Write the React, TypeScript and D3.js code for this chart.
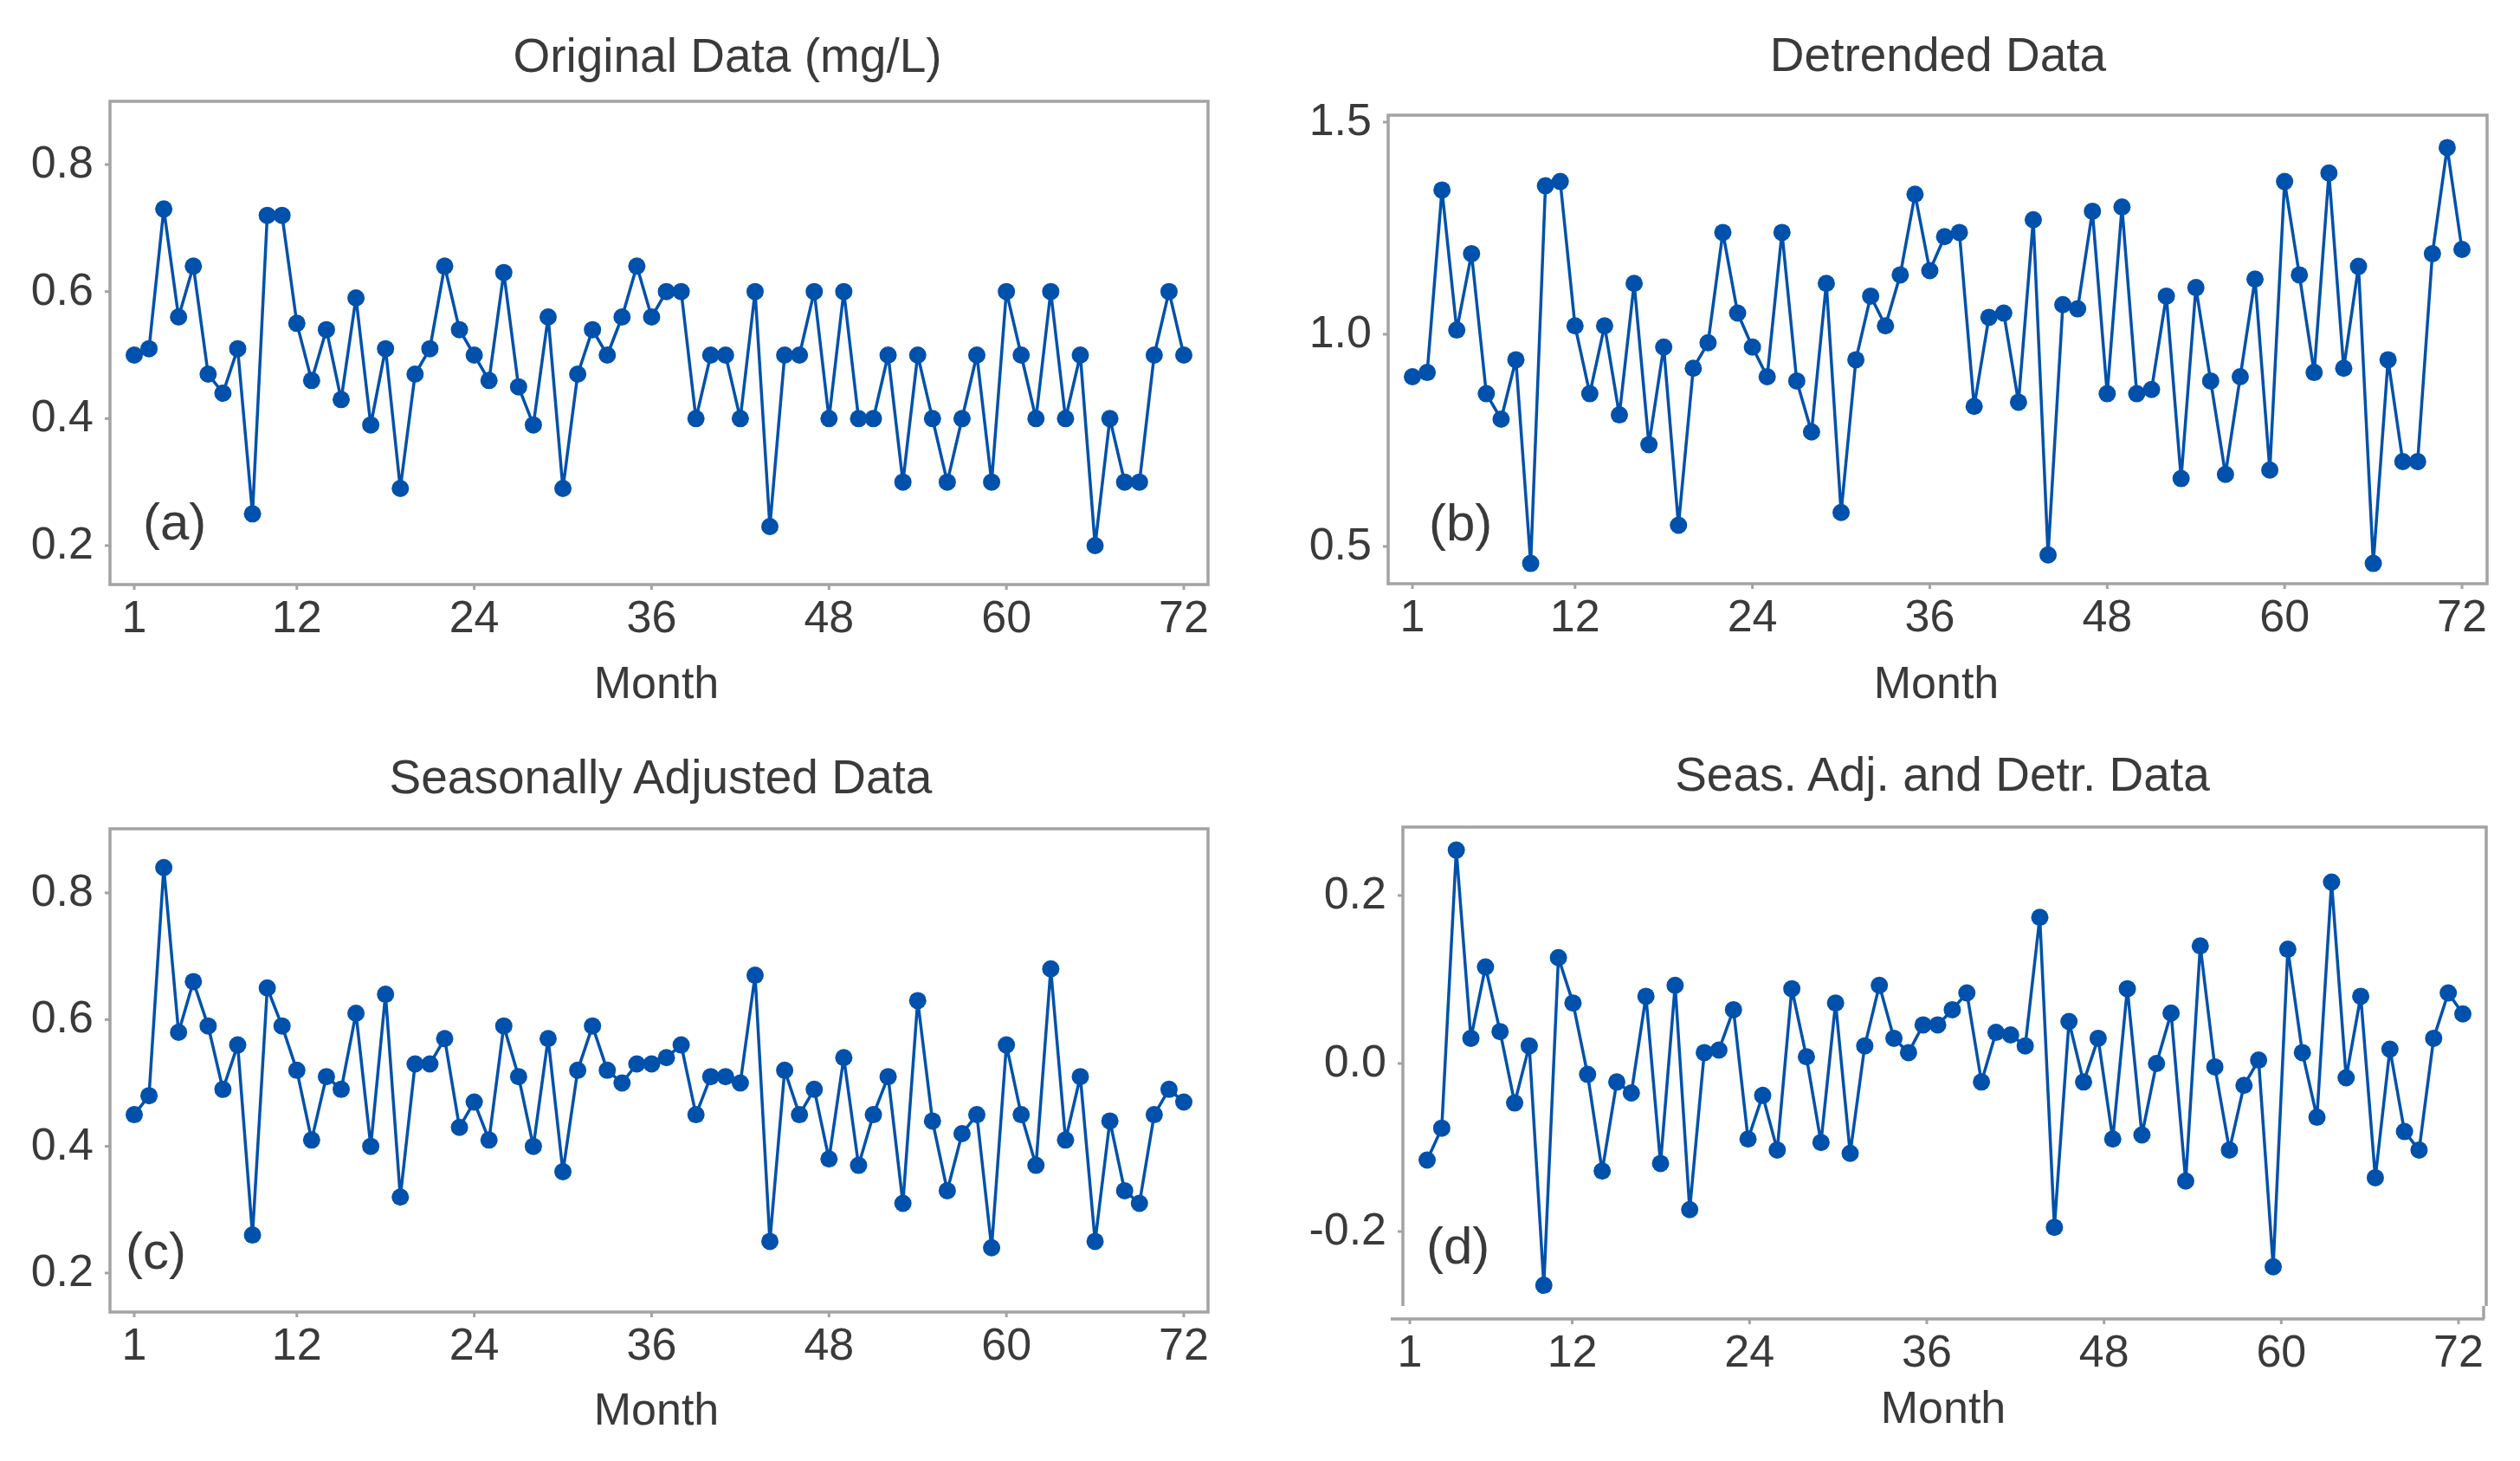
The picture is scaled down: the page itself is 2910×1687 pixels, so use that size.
import React from "react";
import * as d3 from "d3";

// ---------- data ----------
const months: number[] = d3.range(1, 73);
const xTicks = [1, 12, 24, 36, 48, 60, 72];

const originalData = [
  0.50, 0.51, 0.73, 0.56, 0.64, 0.47, 0.44, 0.51, 0.25, 0.72, 0.72, 0.55,
  0.46, 0.54, 0.43, 0.59, 0.39, 0.51, 0.29, 0.47, 0.51, 0.64, 0.54, 0.50,
  0.46, 0.63, 0.45, 0.39, 0.56, 0.29, 0.47, 0.54, 0.50, 0.56, 0.64, 0.56,
  0.60, 0.60, 0.40, 0.50, 0.50, 0.40, 0.60, 0.23, 0.50, 0.50, 0.60, 0.40,
  0.60, 0.40, 0.40, 0.50, 0.30, 0.50, 0.40, 0.30, 0.40, 0.50, 0.30, 0.60,
  0.50, 0.40, 0.60, 0.40, 0.50, 0.20, 0.40, 0.30, 0.30, 0.50, 0.60, 0.50,
];

const detrendedData = [
  0.90, 0.91, 1.34, 1.01, 1.19, 0.86, 0.80, 0.94, 0.46, 1.35, 1.36, 1.02,
  0.86, 1.02, 0.81, 1.12, 0.74, 0.97, 0.55, 0.92, 0.98, 1.24, 1.05, 0.97,
  0.90, 1.24, 0.89, 0.77, 1.12, 0.58, 0.94, 1.09, 1.02, 1.14, 1.33, 1.15,
  1.23, 1.24, 0.83, 1.04, 1.05, 0.84, 1.27, 0.48, 1.07, 1.06, 1.29, 0.86,
  1.30, 0.86, 0.87, 1.09, 0.66, 1.11, 0.89, 0.67, 0.90, 1.13, 0.68, 1.36,
  1.14, 0.91, 1.38, 0.92, 1.16, 0.46, 0.94, 0.70, 0.70, 1.19, 1.44, 1.20,
];

const seasAdjData = [
  0.45, 0.48, 0.84, 0.58, 0.66, 0.59, 0.49, 0.56, 0.26, 0.65, 0.59, 0.52,
  0.41, 0.51, 0.49, 0.61, 0.40, 0.64, 0.32, 0.53, 0.53, 0.57, 0.43, 0.47,
  0.41, 0.59, 0.51, 0.40, 0.57, 0.36, 0.52, 0.59, 0.52, 0.50, 0.53, 0.53,
  0.54, 0.56, 0.45, 0.51, 0.51, 0.50, 0.67, 0.25, 0.52, 0.45, 0.49, 0.38,
  0.54, 0.37, 0.45, 0.51, 0.31, 0.63, 0.44, 0.33, 0.42, 0.45, 0.24, 0.56,
  0.45, 0.37, 0.68, 0.41, 0.51, 0.25, 0.44, 0.33, 0.31, 0.45, 0.49, 0.47,
];

const seasAdjDetrData = [
  -0.115, -0.077, 0.254, 0.030, 0.115, 0.038, -0.047, 0.021, -0.264, 0.126, 0.072, -0.013,
  -0.128, -0.022, -0.035, 0.080, -0.119, 0.093, -0.174, 0.013, 0.016, 0.064, -0.090, -0.038,
  -0.103, 0.089, 0.008, -0.094, 0.072, -0.107, 0.021, 0.093, 0.030, 0.013, 0.046, 0.046,
  0.064, 0.084, -0.022, 0.037, 0.034, 0.021, 0.174, -0.195, 0.050, -0.022, 0.030, -0.090,
  0.089, -0.085, 0.000, 0.060, -0.140, 0.140, -0.004, -0.103, -0.026, 0.004, -0.242, 0.136,
  0.013, -0.064, 0.216, -0.017, 0.080, -0.136, 0.017, -0.081, -0.103, 0.030, 0.084, 0.059,
];

const yTicksAC = [0.2, 0.4, 0.6, 0.8];
const yLabelsAC = ["0.2", "0.4", "0.6", "0.8"];
const yTicksB = [0.5, 1.0, 1.5];
const yLabelsB = ["0.5", "1.0", "1.5"];
const yTicksD = [-0.2, 0.0, 0.2];
const yLabelsD = ["-0.2", "0.0", "0.2"];

const titles = [
  "Original Data (mg/L)",
  "Detrended Data",
  "Seasonally Adjusted Data",
  "Seas. Adj. and Detr. Data",
];
const panelTags = ["(a)", "(b)", "(c)", "(d)"];
const xAxisTitle = "Month";

// ---------- styles ----------
const FONT = "'Liberation Sans', Arial, sans-serif";
const TEXT = "#3a3a3a";
const FRAME = "#a3a3a3";
const BLUE = "#0051ab";

type Panel = {
  values: number[];
  yTicks: number[];
  yLabels: string[];
  title: string;
  tag: string;
  box: { x0: number; x1: number; y0: number; y1: number };
  xRange: [number, number];
  ptRange: [number, number];
  yDomain: [number, number];
  yRange: [number, number];
  titleX: number;
  titleY: number;
  monthX: number;
  monthY: number;
  tagX: number;
  tagY: number;
  detached?: { leftBottom: number; axisY: number; axisX0: number; axisX1: number };
};

const panels: Panel[] = [
  {
    values: originalData, yTicks: yTicksAC, yLabels: yLabelsAC, title: titles[0], tag: panelTags[0],
    box: { x0: 127, x1: 1395, y0: 117, y1: 675 },
    xRange: [155, 1367], ptRange: [155, 1367],
    yDomain: [0.2, 0.8], yRange: [630, 190],
    titleX: 840, titleY: 83, monthX: 758, monthY: 806, tagX: 165, tagY: 623,
  },
  {
    values: detrendedData, yTicks: yTicksB, yLabels: yLabelsB, title: titles[1], tag: panelTags[1],
    box: { x0: 1603, x1: 2872, y0: 133, y1: 674 },
    xRange: [1631, 2843], ptRange: [1631, 2843],
    yDomain: [0.5, 1.5], yRange: [631, 141],
    titleX: 2238, titleY: 82, monthX: 2236, monthY: 806, tagX: 1650, tagY: 624,
  },
  {
    values: seasAdjData, yTicks: yTicksAC, yLabels: yLabelsAC, title: titles[2], tag: panelTags[2],
    box: { x0: 127, x1: 1395, y0: 957, y1: 1515 },
    xRange: [155, 1367], ptRange: [155, 1367],
    yDomain: [0.2, 0.8], yRange: [1470, 1031],
    titleX: 763, titleY: 916, monthX: 758, monthY: 1645, tagX: 145, tagY: 1465,
  },
  {
    values: seasAdjDetrData, yTicks: yTicksD, yLabels: yLabelsD, title: titles[3], tag: panelTags[3],
    box: { x0: 1620, x1: 2871, y0: 955, y1: 1508 },
    xRange: [1628, 2839], ptRange: [1648, 2844],
    yDomain: [-0.2, 0.2], yRange: [1422, 1034],
    titleX: 2243, titleY: 913, monthX: 2244, monthY: 1643, tagX: 1647, tagY: 1459,
    detached: { leftBottom: 1508, axisY: 1523, axisX0: 1606, axisX1: 2869 },
  },
];

function PanelView({ p }: { p: Panel }) {
  const x = d3.scaleLinear().domain([1, 72]).range(p.xRange);
  const xp = d3.scaleLinear().domain([1, 72]).range(p.ptRange);
  const y = d3.scaleLinear().domain(p.yDomain).range(p.yRange);
  const line = d3
    .line<number>()
    .x((_, i) => xp(months[i]))
    .y((d) => y(d));
  const { x0, x1, y0, y1 } = p.box;
  const axisY = p.detached ? p.detached.axisY : y1;
  const sw = 3.5;
  return (
    <g>
      {p.detached ? (
        <g stroke={FRAME} strokeWidth={sw} fill="none">
          <path d={`M${x0},${y1}V${y0}H${x1}V${y1}`} />
          <path d={`M${x1 - 3},${y1}V${axisY}`} />
          <path d={`M${p.detached.axisX0},${axisY}H${p.detached.axisX1}`} />
        </g>
      ) : (
        <rect x={x0} y={y0} width={x1 - x0} height={y1 - y0} fill="none" stroke={FRAME} strokeWidth={sw} />
      )}
      {/* y ticks */}
      {p.yTicks.map((t, i) => (
        <g key={"y" + i}>
          <line x1={x0 - 6} x2={x0} y1={y(t)} y2={y(t)} stroke={FRAME} strokeWidth={3} />
          <text
            x={x0 - 19}
            y={y(t) + 15}
            textAnchor="end"
            fontSize={52}
            fontFamily={FONT}
            fill={TEXT}
          >
            {p.yLabels[i]}
          </text>
        </g>
      ))}
      {/* x ticks */}
      {xTicks.map((t) => (
        <g key={"x" + t}>
          <line x1={x(t)} x2={x(t)} y1={axisY} y2={axisY + 6} stroke={FRAME} strokeWidth={3} />
          <text
            x={x(t)}
            y={axisY + 55}
            textAnchor="middle"
            fontSize={52}
            fontFamily={FONT}
            fill={TEXT}
          >
            {t}
          </text>
        </g>
      ))}
      <path d={line(p.values) || ""} fill="none" stroke={BLUE} strokeWidth={3.5} strokeLinejoin="round" />
      {p.values.map((v, i) => (
        <circle key={i} cx={xp(months[i])} cy={y(v)} r={10} fill={BLUE} />
      ))}
      <text x={p.titleX} y={p.titleY} textAnchor="middle" fontSize={55} fontFamily={FONT} fill={TEXT}>
        {p.title}
      </text>
      <text x={p.monthX} y={p.monthY} textAnchor="middle" fontSize={52} fontFamily={FONT} fill={TEXT}>
        {xAxisTitle}
      </text>
      <text x={p.tagX} y={p.tagY} fontSize={60} fontFamily={FONT} fill={TEXT}>
        {p.tag}
      </text>
    </g>
  );
}

export default function App() {
  return (
    <svg
      width={2910}
      height={1687}
      viewBox="0 0 2910 1687"
      style={{ position: "absolute", left: 0, top: 0, background: "#fff", display: "block" }}
    >
      <rect x={0} y={0} width={2910} height={1687} fill="#fff" />
      {panels.map((p, i) => (
        <PanelView key={i} p={p} />
      ))}
    </svg>
  );
}
